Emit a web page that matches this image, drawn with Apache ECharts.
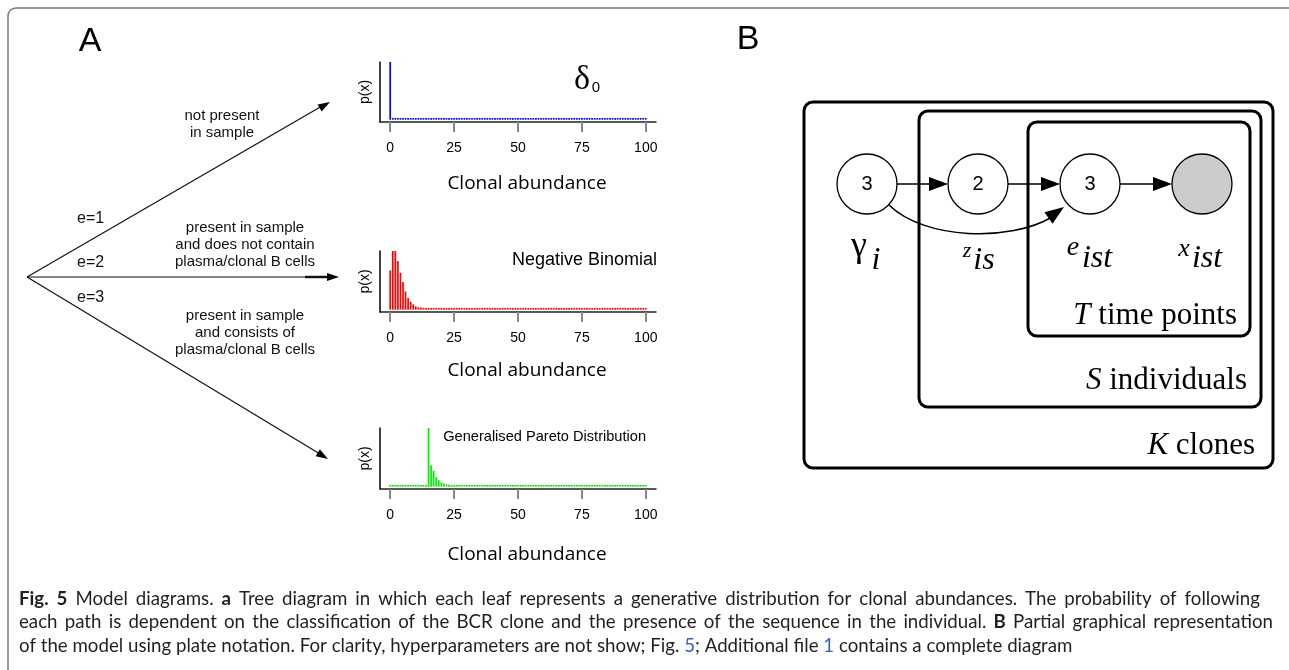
<!DOCTYPE html>
<html><head><meta charset="utf-8">
<script src="https://cdn.jsdelivr.net/npm/echarts@6/dist/echarts.min.js"></script>
<style>html,body{margin:0;padding:0;background:#fff}#c{width:1289px;height:670px}</style>
</head><body><div id="c"></div>
<script>
// ---------- data ----------
const abundance = Array.from({length: 101}, (_, i) => i); // x categories 0..100
const tickValues = [0, 25, 50, 75, 100];
const tickLabels = ['0', '25', '50', '75', '100'];
// delta_0 : not present in sample
const deltaP = [1,
 .03,.03,.03,.03,.03,.03,.03,.03,.03,.03,.03,.03,.03,.03,.03,.03,.03,.03,.03,.03,
 .03,.03,.03,.03,.03,.03,.03,.03,.03,.03,.03,.03,.03,.03,.03,.03,.03,.03,.03,.03,
 .03,.03,.03,.03,.03,.03,.03,.03,.03,.03,.03,.03,.03,.03,.03,.03,.03,.03,.03,.03,
 .03,.03,.03,.03,.03,.03,.03,.03,.03,.03,.03,.03,.03,.03,.03,.03,.03,.03,.03,.03,
 .03,.03,.03,.03,.03,.03,.03,.03,.03,.03,.03,.03,.03,.03,.03,.03,.03,.03,.03,.03];
// Negative binomial
const negBinP = [0.67,1,1,0.83,0.63,0.47,0.31,0.2,0.135,0.09,0.055,0.04,0.035,
 .03,.03,.03,.03,.03,.03,.03,.03,.03,.03,.03,.03,.03,.03,.03,.03,.03,.03,.03,.03,
 .03,.03,.03,.03,.03,.03,.03,.03,.03,.03,.03,.03,.03,.03,.03,.03,.03,.03,.03,.03,
 .03,.03,.03,.03,.03,.03,.03,.03,.03,.03,.03,.03,.03,.03,.03,.03,.03,.03,.03,.03,
 .03,.03,.03,.03,.03,.03,.03,.03,.03,.03,.03,.03,.03,.03,.03,.03,.03,.03,.03,.03,
 .03,.03,.03,.03,.03,.03,.03,.03];
// Generalised Pareto
const gpdP = [.03,.03,.03,.03,.03,.03,.03,.03,.03,.03,.03,.03,.03,.03,.03,
 1,0.36,0.27,0.16,0.11,0.07,0.055,0.04,0.035,
 .03,.03,.03,.03,.03,.03,.03,.03,.03,.03,.03,.03,.03,.03,.03,.03,.03,.03,.03,.03,
 .03,.03,.03,.03,.03,.03,.03,.03,.03,.03,.03,.03,.03,.03,.03,.03,.03,.03,.03,.03,
 .03,.03,.03,.03,.03,.03,.03,.03,.03,.03,.03,.03,.03,.03,.03,.03,.03,.03,.03,.03,
 .03,.03,.03,.03,.03,.03,.03,.03,.03,.03,.03,.03,.03,.03,.03,.03,.03];
const seriesColors = ['#0000ff', '#ff0000', '#00ee00'];
const seriesValues = [deltaP, negBinP, gpdP];
const xName = 'Clonal abundance';
const yName = 'p(x)';

// ---------- layout ----------
const grids = [{top: 62, h: 60, gap: 52}, {top: 251, h: 61, gap: 49}, {top: 428, h: 61, gap: 56}];
const SANS = '"Liberation Sans", Arial, sans-serif';
const SERIF = '"Liberation Serif", "DejaVu Serif", serif';
const CAP = 'Lato, "Open Sans", sans-serif';
const CAPCOL = '#231f20';

const chart = echarts.init(document.getElementById('c'), null, {renderer: 'canvas'});

function txt(x, y, text, o) {
  o = o || {};
  return {type: 'text', x: x, y: y, silent: true, z: 10, style: Object.assign({
    text: text, fill: '#111', fontSize: 15, fontFamily: SANS,
    textAlign: 'center', textVerticalAlign: 'middle'}, o)};
}
function line(x1, y1, x2, y2, w, c) {
  return {type: 'line', silent: true, shape: {x1, y1, x2, y2}, style: {stroke: c || '#111', lineWidth: w || 1.2}};
}
function head(x1, y1, x2, y2, len, w) {
  const a = Math.atan2(y2 - y1, x2 - x1);
  const bx = x2 - len * Math.cos(a), by = y2 - len * Math.sin(a);
  const px = -Math.sin(a) * w / 2, py = Math.cos(a) * w / 2;
  return {type: 'polygon', silent: true, shape: {points: [[x2, y2], [bx + px, by + py], [bx - px, by - py]]}, style: {fill: '#000'}};
}

// caption
const mctx = document.createElement('canvas').getContext('2d');
function wOf(s, bold, size) { mctx.font = (bold ? 'bold ' : '') + size + 'px ' + CAP; return mctx.measureText(s).width; }
const cap3 = [['of the model using plate notation. For clarity, hyperparameters are not show; Fig. ', 'r'], ['5', 'l'], ['; Additional file ', 'r'], ['1', 'l'], [' contains a complete diagram', 'r']];
const cap1Words = [['Fig.', 1], ['5', 1], ['Model', 0], ['diagrams.', 0], ['a', 1]].concat(
  'Tree diagram in which each leaf represents a generative distribution for clonal abundances. The probability of following'.split(' ').map(w => [w, 0]));
const cap2Words = 'each path is dependent on the classification of the BCR clone and the presence of the sequence in the individual.'.split(' ').map(w => [w, 0])
  .concat([['B', 1]], 'Partial graphical representation'.split(' ').map(w => [w, 0]));
function natW(words, size) {
  return words.reduce((a, w) => a + wOf(w[0], w[1], size), 0) + wOf(' ', false, size) * (words.length - 1);
}
let w3 = 0; cap3.forEach(s => { w3 += wOf(s[0], false, 100); });
const sFit3 = 100 * 1006 / w3;
const sFit12 = Math.min(100 * 1241 / natW(cap1Words, 100), 100 * 1254 / natW(cap2Words, 100));
const capSize = (sFit3 + sFit12) / 2;

const elements = [];
function justified(words, y, x0, x1) {
  const ws = words.map(w => wOf(w[0], w[1], capSize));
  const tot = ws.reduce((a, b) => a + b, 0);
  const gap = (x1 - x0 - tot) / (words.length - 1);
  let x = x0;
  words.forEach((w, i) => {
    elements.push(txt(x, y, w[0], {textAlign: 'left', fontSize: capSize, fontFamily: CAP, fontWeight: w[1] ? 'bold' : 'normal', fill: CAPCOL}));
    x += ws[i] + gap;
  });
}

// outer frame
elements.push({type: 'rect', silent: true, shape: {x: 8, y: 8, width: 1320, height: 720, r: 8}, style: {fill: 'none', stroke: '#777', lineWidth: 1.5}});
// panel letters
elements.push(txt(90, 42, 'A', {fontSize: 34, fill: '#000'}));
elements.push(txt(748, 40, 'B', {fontSize: 34, fill: '#000'}));
// tree
const O = [27, 277];
elements.push(line(O[0], O[1], 322, 106));
elements.push(head(O[0], O[1], 330, 102, 12, 8));
elements.push(line(O[0], O[1], 330, 277));
elements.push(line(305, 277, 330, 277, 2.4));
elements.push(head(O[0], O[1], 339, 277, 12, 8));
elements.push(line(O[0], O[1], 320, 454));
elements.push(head(O[0], O[1], 328, 459, 12, 8));
elements.push(txt(222, 116, 'not present'));
elements.push(txt(222, 133, 'in sample'));
elements.push(txt(245, 228, 'present in sample'));
elements.push(txt(245, 245, 'and does not contain'));
elements.push(txt(245, 262, 'plasma/clonal B cells'));
elements.push(txt(245, 316, 'present in sample'));
elements.push(txt(245, 333, 'and consists of'));
elements.push(txt(245, 350, 'plasma/clonal B cells'));
elements.push(txt(77, 219, 'e=1', {textAlign: 'left', fontSize: 16}));
elements.push(txt(77, 263, 'e=2', {textAlign: 'left', fontSize: 16}));
elements.push(txt(77, 298, 'e=3', {textAlign: 'left', fontSize: 16}));
// chart annotations
elements.push(txt(582, 80, 'δ', {fontSize: 34, fontFamily: SERIF, fill: '#000'}));
elements.push(txt(596, 88, '0', {fontSize: 15, fill: '#000'}));
elements.push(txt(657, 260, 'Negative Binomial', {fontSize: 18, textAlign: 'right', fill: '#000'}));
elements.push(txt(646, 437, 'Generalised Pareto Distribution', {fontSize: 14.6, textAlign: 'right', fill: '#000'}));
// plates
[[804, 102, 469, 366], [919, 111, 342, 296], [1028, 122, 222, 214]].forEach(p => {
  elements.push({type: 'rect', silent: true, shape: {x: p[0], y: p[1], width: p[2], height: p[3], r: 9}, style: {fill: 'none', stroke: '#000', lineWidth: 3}});
});
// nodes
const nodeX = [867, 978, 1090, 1202], nodeY = 184, R = 30;
const nodeTxt = ['3', '2', '3', ''];
nodeX.forEach((x, i) => {
  elements.push({type: 'circle', silent: true, shape: {cx: x, cy: nodeY, r: R}, style: {fill: i === 3 ? '#cccccc' : '#fff', stroke: '#000', lineWidth: 1.3}, z: 5});
  if (nodeTxt[i]) elements.push(txt(x, nodeY, nodeTxt[i], {fontSize: 20, fill: '#000'}));
});
for (let i = 0; i < 3; i++) {
  const a = nodeX[i] + R, b = nodeX[i + 1] - R;
  elements.push(line(a, nodeY, b - 10, nodeY, 1.5, '#000'));
  elements.push(head(a, nodeY, b, nodeY, 19, 14));
}
elements.push({type: 'bezierCurve', silent: true, shape: {x1: 889, y1: 205, cpx1: 925, cpy1: 240, cpx2: 1010, cpy2: 242, x2: 1052, y2: 217}, style: {fill: 'none', stroke: '#000', lineWidth: 1.5}});
elements.push(head(1040, 224, 1064, 207, 19, 14));
// node labels
elements.push(txt(859, 247, 'γ', {fontSize: 36, fontFamily: SERIF, fill: '#000'}));
elements.push(txt(876, 261, 'i', {fontSize: 32, fontFamily: SERIF, fontStyle: 'italic', fill: '#000'}));
elements.push(txt(967, 251, 'z', {fontSize: 22, fontFamily: SERIF, fontStyle: 'italic', fill: '#000'}));
elements.push(txt(984, 261, 'is', {fontSize: 32, fontFamily: SERIF, fontStyle: 'italic', fill: '#000'}));
elements.push(txt(1073, 248, 'e', {fontSize: 28, fontFamily: SERIF, fontStyle: 'italic', fill: '#000'}));
elements.push(txt(1097, 259, 'ist', {fontSize: 32, fontFamily: SERIF, fontStyle: 'italic', fill: '#000'}));
elements.push(txt(1184, 249, 'x', {fontSize: 26, fontFamily: SERIF, fontStyle: 'italic', fill: '#000'}));
elements.push(txt(1207, 259, 'ist', {fontSize: 32, fontFamily: SERIF, fontStyle: 'italic', fill: '#000'}));
// plate labels
const plateRich = {it: {fontStyle: 'italic', fontSize: 31, fontFamily: SERIF, fill: '#000'}, n: {fontSize: 31, fontFamily: SERIF, fill: '#000'}};
elements.push(txt(1237, 316, '{it|T}{n| time points}', {textAlign: 'right', rich: plateRich, fontSize: 31, fontFamily: SERIF}));
elements.push(txt(1247, 381, '{it|S}{n| individuals}', {textAlign: 'right', rich: plateRich, fontSize: 31, fontFamily: SERIF}));
elements.push(txt(1255, 446, '{it|K}{n| clones}', {textAlign: 'right', rich: plateRich, fontSize: 31, fontFamily: SERIF}));
// caption
justified(cap1Words, 599, 19, 1260);
justified(cap2Words, 622, 19, 1273);
const capRich = {
  r: {fontSize: capSize, fontFamily: CAP, fill: CAPCOL},
  l: {fontSize: capSize, fontFamily: CAP, fill: '#2f5fd0'}
};
elements.push(txt(19, 646, cap3.map(s => '{' + s[1] + '|' + s[0] + '}').join(''), {textAlign: 'left', rich: capRich, fontSize: capSize, fontFamily: CAP}));

const option = {
  animation: false,
  backgroundColor: '#fff',
  grid: grids.map(g => ({left: 380, width: 276, top: g.top, height: g.h, containLabel: false})),
  xAxis: grids.map((g, i) => ({
    gridIndex: i, type: 'value', min: -4, max: 104,
    axisLine: {onZero: false, lineStyle: {color: '#222', width: 1.5}},
    axisTick: {customValues: tickValues, length: 10, lineStyle: {color: '#888', width: 2}},
    axisLabel: {customValues: tickValues, formatter: v => tickLabels[tickValues.indexOf(v)], margin: 19,
      fontSize: 14, fontFamily: SANS, color: '#000'},
    splitLine: {show: false},
    name: xName, nameLocation: 'middle', nameGap: g.gap,
    nameTextStyle: {fontSize: 19, fontFamily: '"Open Sans", sans-serif', color: '#000', padding: [0, 0, 0, 18]}
  })),
  yAxis: grids.map((g, i) => ({
    gridIndex: i, type: 'value', min: -0.04, max: 1,
    axisLine: {show: true, onZero: false, lineStyle: {color: '#000', width: 1.5}},
    axisTick: {show: false}, axisLabel: {show: false}, splitLine: {show: false},
    name: yName, nameLocation: 'middle', nameGap: 8, nameRotate: 90,
    nameTextStyle: {fontSize: 14, fontFamily: SANS, color: '#000'}
  })),
  series: seriesValues.map((vals, i) => ({
    type: 'bar', xAxisIndex: i, yAxisIndex: i, silent: true, barWidth: 1.7,
    itemStyle: {color: seriesColors[i]},
    data: abundance.map((x, j) => [x, vals[j]])
  })),
  graphic: {elements: elements}
};
chart.setOption(option);
</script>
</body></html>
